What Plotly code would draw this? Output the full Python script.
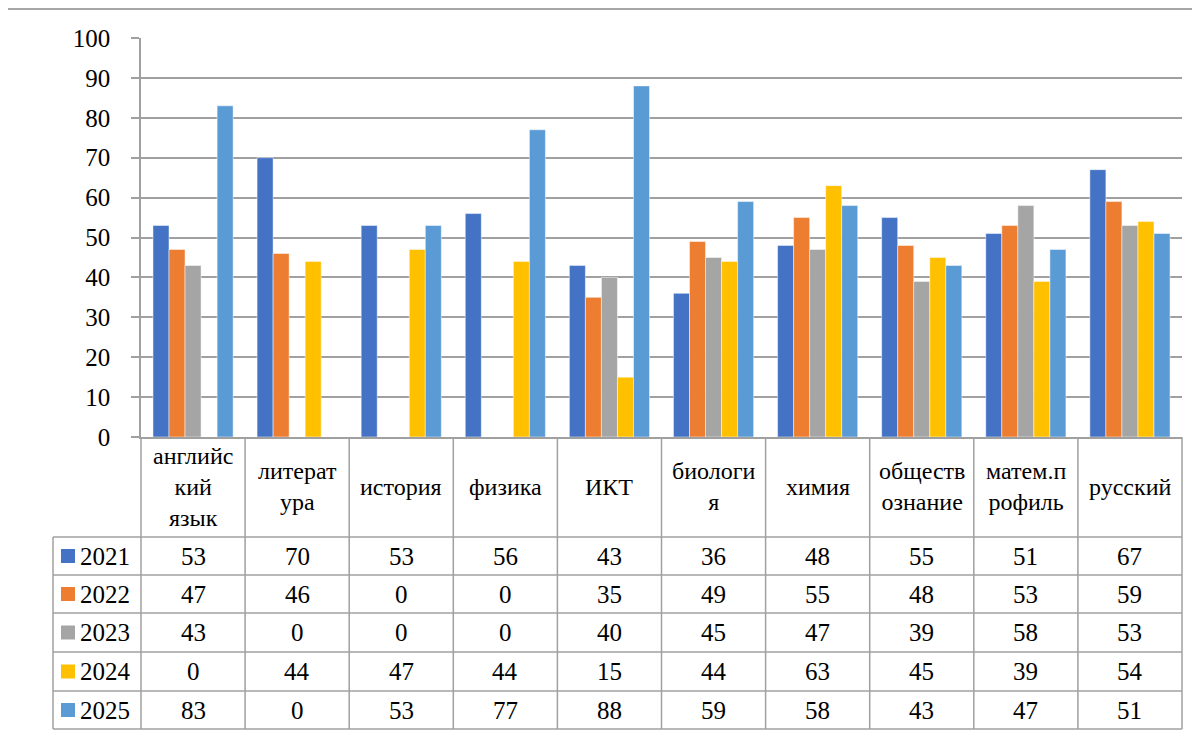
import plotly.graph_objects as go

categories = ["английский язык", "литература", "история", "физика", "ИКТ",
              "биология", "химия", "обществознание", "матем.профиль", "русский"]
cat_labels = ["английс<br>кий<br>язык", "литерат<br>ура", "история", "физика", "ИКТ",
              "биологи<br>я", "химия", "обществ<br>ознание", "матем.п<br>рофиль", "русский"]
years = ["2021", "2022", "2023", "2024", "2025"]
v2021 = [53, 70, 53, 56, 43, 36, 48, 55, 51, 67]
v2022 = [47, 46, 0, 0, 35, 49, 55, 48, 53, 59]
v2023 = [43, 0, 0, 0, 40, 45, 47, 39, 58, 53]
v2024 = [0, 44, 47, 44, 15, 44, 63, 45, 39, 54]
v2025 = [83, 0, 53, 77, 88, 59, 58, 43, 47, 51]
series = [v2021, v2022, v2023, v2024, v2025]
colors = ["#4472C4", "#ED7D31", "#A5A5A5", "#FFC000", "#5B9BD5"]
y_ticks = [0, 10, 20, 30, 40, 50, 60, 70, 80, 90, 100]

OFF = 8  # page body margin offset
W, H = 1200 - OFF, 736 - OFF
L, R, T, B = 141 - OFF, 1182 - OFF, 38 - OFF, 437 - OFF
FONT = "Liberation Serif, Tinos, Times New Roman, DejaVu Serif, Noto Serif, serif"
FS = 25
GRID = "#a0a0a0"

def px(x):
    return (x - OFF - L) / (R - L)

def py(y):
    return (B - (y - OFF)) / (B - T)

fig = go.Figure()
for yr, vals, col in zip(years, series, colors):
    fig.add_trace(go.Bar(x=categories, y=vals, name=yr, marker_color=col,
                         marker_line=dict(color="rgba(255,255,255,0.6)", width=0.8),
                         showlegend=False))

shapes = []
annotations = []
line = dict(color=GRID, width=1.5)

# outer chart border (left & top visible)
shapes.append(dict(type="line", xref="paper", yref="paper", x0=px(7), x1=px(1210),
                   y0=py(9), y1=py(9), line=dict(color="#8a8a8a", width=1.5)))
shapes.append(dict(type="line", xref="paper", yref="paper", x0=px(7), x1=px(7),
                   y0=py(9), y1=py(745), line=dict(color="#8a8a8a", width=1.5)))

# data table geometry (screen pixel coordinates)
n = len(categories)
SL, SR, SB = 141, 1182, 437
colw = (SR - SL) / n
row_y = [537, 575, 613, 652, 691, 729]
tab_left = 53

for k in range(n + 1):
    xx = SL + k * colw
    shapes.append(dict(type="line", xref="paper", yref="paper", x0=px(xx), x1=px(xx),
                       y0=py(SB), y1=py(row_y[-1]), line=line))
shapes.append(dict(type="line", xref="paper", yref="paper", x0=px(tab_left), x1=px(tab_left),
                   y0=py(row_y[0]), y1=py(row_y[-1]), line=line))
for yy in row_y:
    shapes.append(dict(type="line", xref="paper", yref="paper", x0=px(tab_left), x1=px(SR),
                       y0=py(yy), y1=py(yy), line=line))

# header labels
for k, lab in enumerate(cat_labels):
    annotations.append(dict(xref="x", yref="paper", x=k, y=py((SB + row_y[0]) / 2),
                            text=lab, showarrow=False, xanchor="center", yanchor="middle",
                            font=dict(family=FONT, size=24, color="black")))

# rows
for i, (yr, vals, col) in enumerate(zip(years, series, colors)):
    yc = (row_y[i] + row_y[i + 1]) / 2
    shapes.append(dict(type="rect", xref="paper", yref="paper", x0=px(61), x1=px(75),
                       y0=py(yc - 7), y1=py(yc + 7), fillcolor=col, line=dict(width=0)))
    annotations.append(dict(xref="paper", yref="paper", x=px(78), y=py(yc), text=yr,
                            showarrow=False, xanchor="left", yanchor="middle",
                            font=dict(family=FONT, size=FS, color="black")))
    for k, v in enumerate(vals):
        annotations.append(dict(xref="x", yref="paper", x=k, y=py(yc), text=str(v),
                                showarrow=False, xanchor="center", yanchor="middle",
                                font=dict(family=FONT, size=FS, color="black")))

fig.update_layout(
    width=W, height=H,
    margin=dict(l=L, r=W - R, t=T, b=H - B),
    paper_bgcolor="white", plot_bgcolor="white",
    barmode="group", bargap=0.23, bargroupgap=0,
    shapes=shapes, annotations=annotations,
    font=dict(family=FONT, size=FS, color="black"),
)
fig.update_xaxes(showticklabels=False, showgrid=False, showline=True, linecolor=GRID,
                 linewidth=1.5, ticks="", zeroline=False)
fig.update_yaxes(range=[0, 100], tickvals=y_ticks, showgrid=True, gridcolor=GRID, gridwidth=1.5,
                 showline=True, linecolor=GRID, linewidth=1.5, ticks="outside", ticklen=8,
                 tickcolor=GRID, tickwidth=1.5, zeroline=False, ticklabelstandoff=16,
                 tickfont=dict(family=FONT, size=FS, color="black"))

fig.write_html("out.html")
